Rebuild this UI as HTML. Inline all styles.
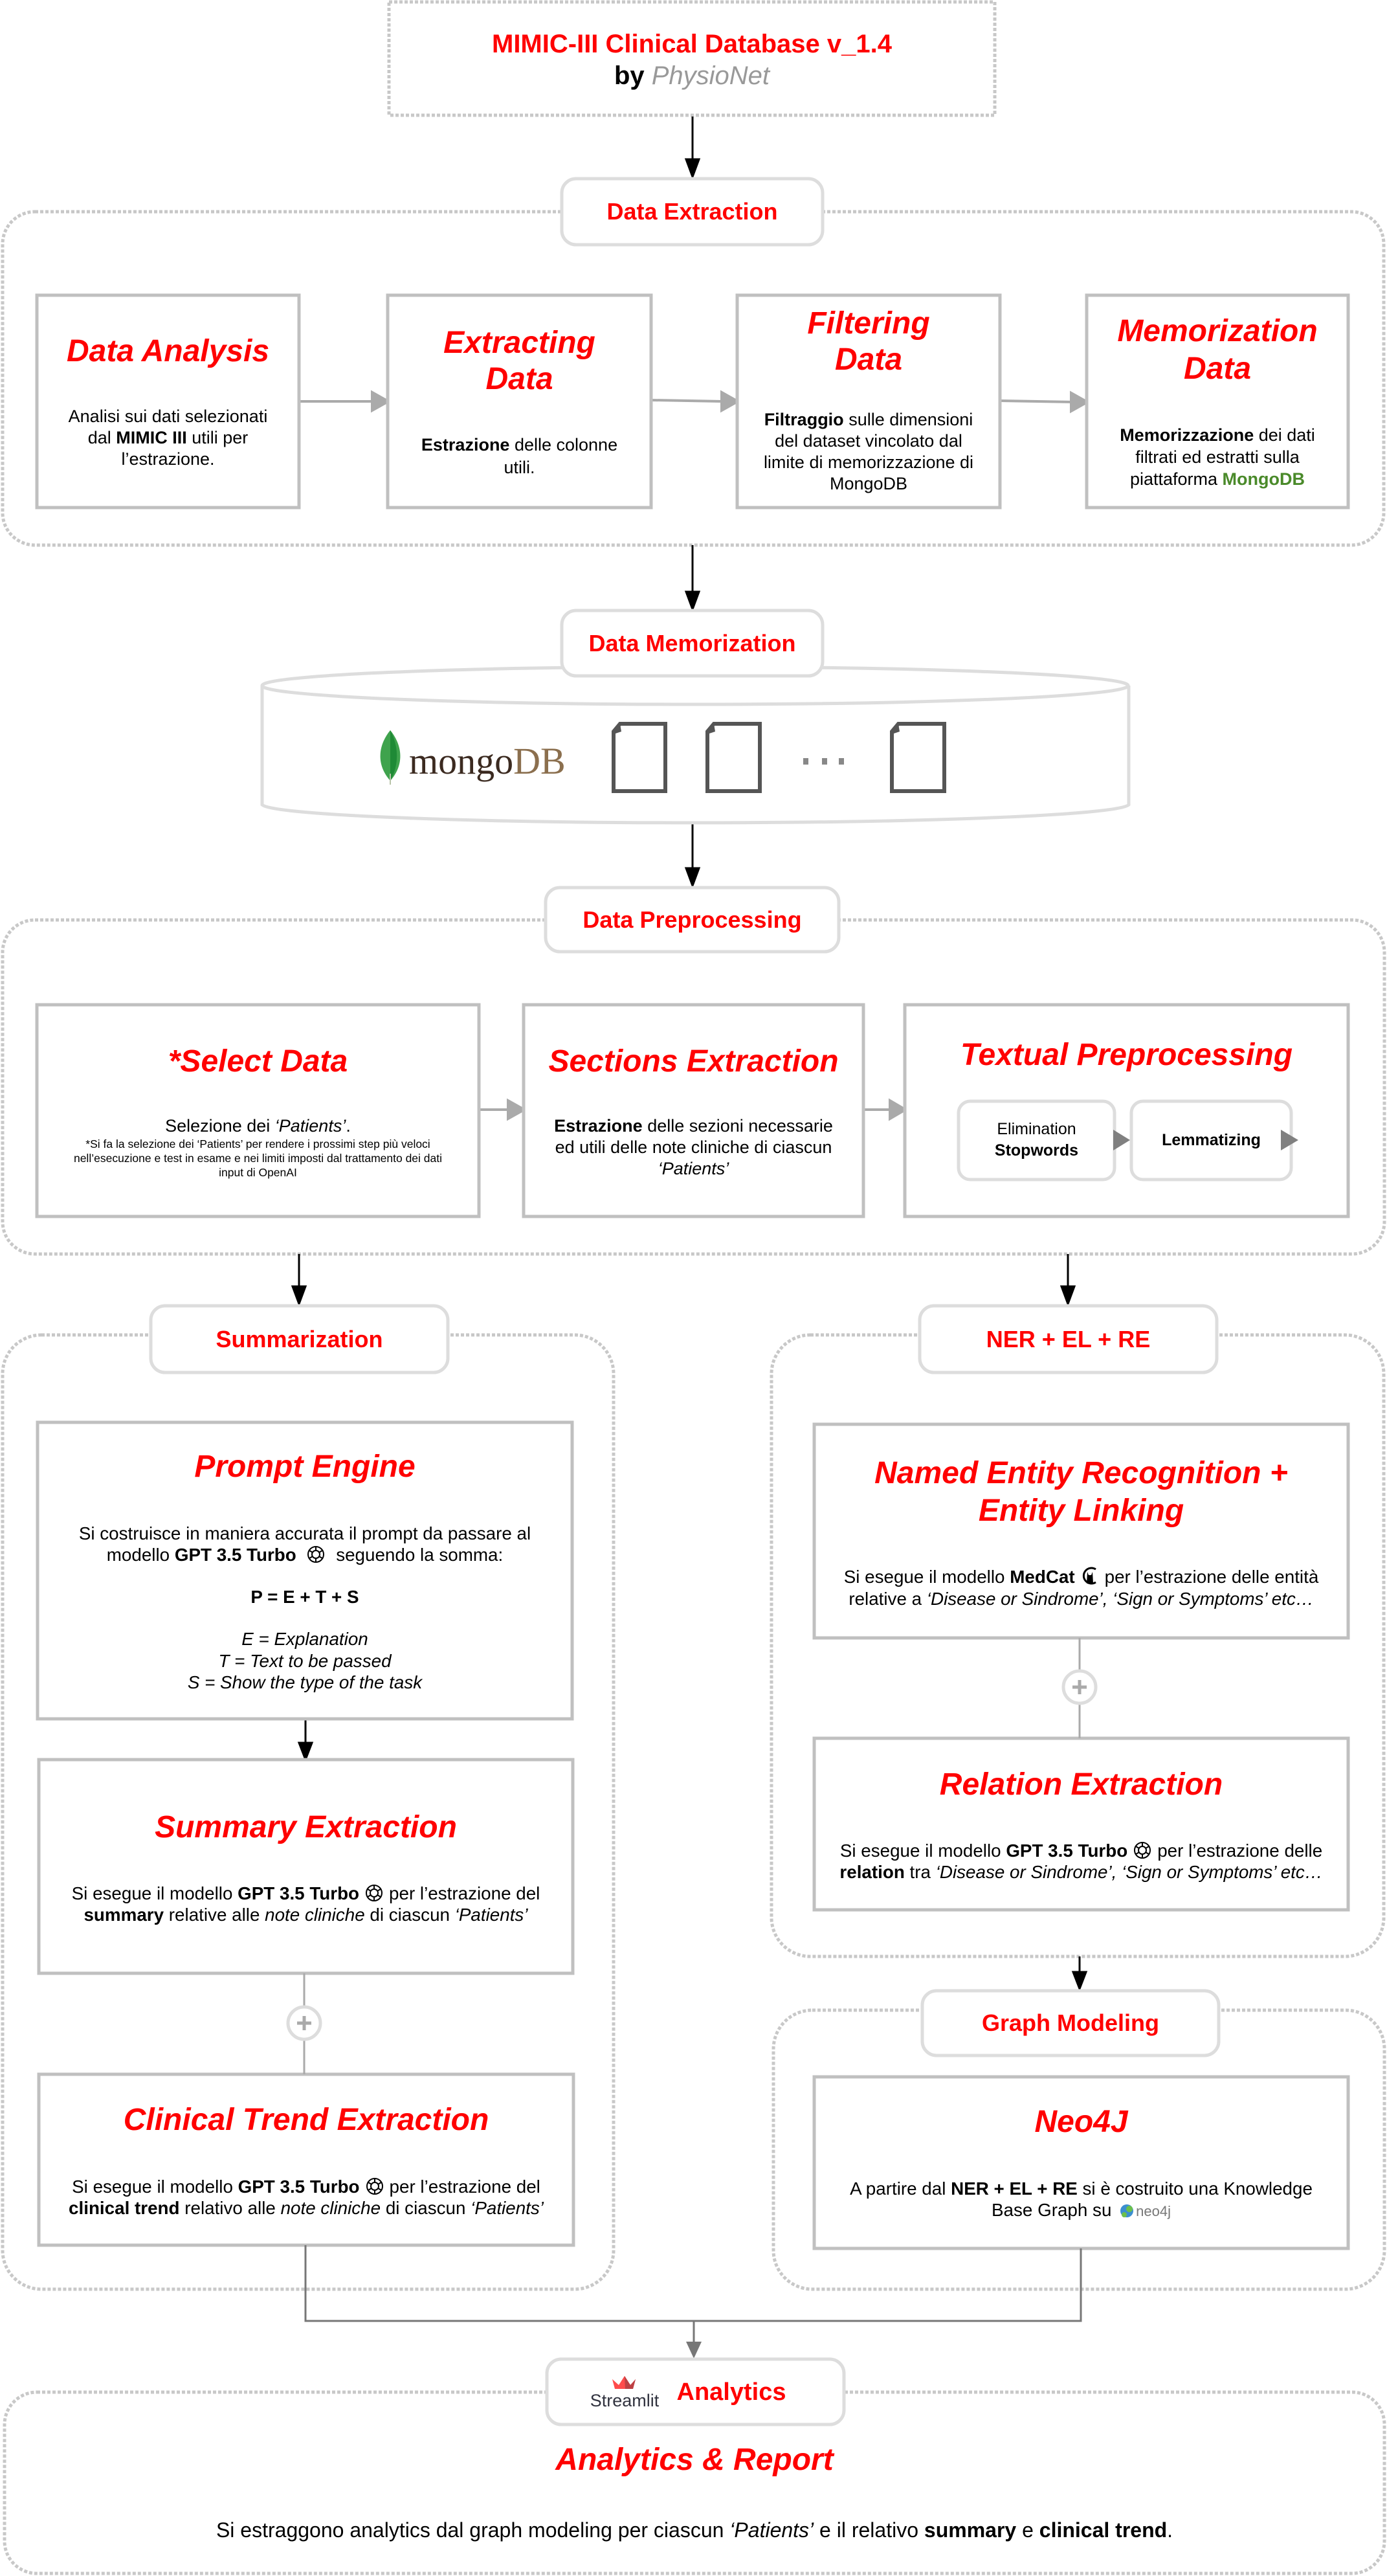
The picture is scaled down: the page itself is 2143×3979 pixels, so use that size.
<!DOCTYPE html>
<html><head><meta charset="utf-8">
<style>
*{margin:0;padding:0;box-sizing:border-box}
body{width:2143px;height:3979px;position:relative;background:#fff;font-family:"Liberation Sans",Arial,sans-serif;color:#000;overflow:hidden}
svg.bg{position:absolute;left:0;top:0}
.t{position:absolute;text-align:center;white-space:nowrap}
.h{color:#f00;font-weight:bold;font-style:italic;font-size:48px;line-height:58px}
.b{font-size:27px;line-height:33px}
.b2{font-size:27.8px}
.l{color:#f00;font-weight:bold;font-size:36px;display:flex;align-items:center;justify-content:center}
.ic{display:inline-block;vertical-align:-5px;margin:0 8px}
</style></head><body>
<svg class="bg" width="2143" height="3979" viewBox="0 0 2143 3979">
<g fill="none" stroke="#c8c8c8" stroke-width="5" stroke-dasharray="5 3">
<rect x="601" y="3" width="936" height="175"/>
<rect x="4" y="327" width="2134" height="515" rx="50"/>
<rect x="4" y="1421" width="2135" height="516" rx="50"/>
<rect x="4" y="2062" width="944" height="1474" rx="60"/>
<rect x="1192" y="2062" width="946" height="960" rx="60"/>
<rect x="1195" y="3105" width="944" height="431" rx="60"/>
<rect x="7" y="3695" width="2132" height="280" rx="50"/>
</g>
<g stroke="#000" stroke-width="3" fill="#000">
<line x1="1070" y1="180" x2="1070" y2="250"/><path d="M1060,246 L1080,246 L1070,273 z"/>
<line x1="1070" y1="842" x2="1070" y2="918"/><path d="M1060,914 L1080,914 L1070,941 z"/>
<line x1="1070" y1="1272" x2="1070" y2="1345"/><path d="M1060,1341 L1080,1341 L1070,1368 z"/>
<line x1="462" y1="1937" x2="462" y2="1990"/><path d="M452,1987 L472,1987 L462,2014 z"/>
<line x1="1650" y1="1937" x2="1650" y2="1990"/><path d="M1640,1987 L1660,1987 L1650,2014 z"/>
<line x1="472" y1="2655" x2="472" y2="2695"/><path d="M462,2692 L482,2692 L472,2718 z"/>
<line x1="1668" y1="3022" x2="1668" y2="3048"/><path d="M1658,3046 L1678,3046 L1668,3072 z"/>
</g>
<g stroke="#aaa" stroke-width="4" fill="#aaa">
<line x1="462" y1="620" x2="576" y2="620"/><path d="M575,606 L600,620 L575,634 z"/>
<line x1="1006" y1="618" x2="1116" y2="620"/><path d="M1115,606 L1140,620 L1115,634 z"/>
<line x1="1545" y1="619" x2="1656" y2="621"/><path d="M1655,607 L1680,621 L1655,635 z"/>
<line x1="740" y1="1714" x2="787" y2="1714"/><path d="M785,1700 L810,1714 L785,1728 z"/>
<line x1="1334" y1="1714" x2="1376" y2="1714"/><path d="M1375,1700 L1399,1714 L1375,1728 z"/>
</g>
<g fill="#fff" stroke="#ddd" stroke-width="5">
<path d="M405,1059 L405,1243 A670,29 0 0 0 1744,1243 L1744,1059"/>
<ellipse cx="1074" cy="1059" rx="669" ry="29"/>
</g>
<path d="M603,1128 C585,1150 580,1180 603,1206 C626,1180 621,1150 603,1128 z" fill="#3fa34d"/>
<path d="M603,1128 C615,1150 618,1180 603,1206 z" fill="#1f8a36"/>
<line x1="603" y1="1195" x2="603" y2="1212" stroke="#b8c4a8" stroke-width="2"/>
<text x="632" y="1195" font-family="Liberation Serif,serif" font-size="58" fill="#3b2a20">mongo<tspan fill="#8b6f4e">DB</tspan></text>
<g fill="#fff" stroke="#555" stroke-width="6">
<path d="M958,1118 L1028,1118 L1028,1222 L948,1222 L948,1130 z"/>
<path d="M1103,1118 L1174,1118 L1174,1222 L1093,1222 L1093,1130 z"/>
<path d="M1388,1118 L1459,1118 L1459,1222 L1378,1222 L1378,1130 z"/>
</g>
<g fill="#555"><path d="M958,1118 L948,1134 L960,1130 z"/><path d="M1103,1118 L1093,1134 L1105,1130 z"/><path d="M1388,1118 L1378,1134 L1390,1130 z"/></g>
<g fill="#888"><rect x="1241" y="1171" width="8" height="10"/><rect x="1270" y="1171" width="8" height="10"/><rect x="1296" y="1171" width="8" height="10"/></g>
<g fill="#fff" stroke="#c0c0c0" stroke-width="5">
<rect x="57" y="456" width="405" height="328"/>
<rect x="599" y="456" width="407" height="328"/>
<rect x="1139" y="456" width="406" height="328"/>
<rect x="1679" y="456" width="404" height="328"/>
<rect x="57" y="1552" width="683" height="327"/>
<rect x="809" y="1552" width="525" height="327"/>
<rect x="1398" y="1552" width="685" height="327"/>
<rect x="58" y="2197" width="826" height="458"/>
<rect x="60" y="2718" width="825" height="330"/>
<rect x="60" y="3204" width="826" height="264"/>
<rect x="1258" y="2200" width="825" height="330"/>
<rect x="1258" y="2685" width="825" height="265"/>
<rect x="1258" y="3208" width="825" height="265"/>
</g>
<g fill="#fff" stroke="#ddd" stroke-width="5">
<rect x="1481" y="1701" width="241" height="121" rx="18"/>
<rect x="1748" y="1701" width="247" height="121" rx="18"/>
</g>
<g fill="#808080"><path d="M1720,1745 L1746,1761 L1720,1777 z"/><path d="M1979,1745 L2006,1761 L1979,1777 z"/></g>
<g stroke="#aaa" stroke-width="3"><line x1="470" y1="3048" x2="470" y2="3204"/><line x1="1668" y1="2530" x2="1668" y2="2685"/></g>
<g fill="#fff" stroke="#ddd" stroke-width="5"><circle cx="470" cy="3125" r="25"/><circle cx="1668" cy="2606" r="25"/></g>
<g stroke="#aaa" stroke-width="5"><line x1="459" y1="3125" x2="481" y2="3125"/><line x1="470" y1="3114" x2="470" y2="3136"/><line x1="1657" y1="2606" x2="1679" y2="2606"/><line x1="1668" y1="2595" x2="1668" y2="2617"/></g>
<g stroke="#777" stroke-width="3" fill="none"><path d="M472,3468 L472,3585 L1670,3585 L1670,3473"/><line x1="1072" y1="3585" x2="1072" y2="3620"/></g>
<path d="M1060,3617 L1084,3617 L1072,3643 z" fill="#777"/>
<g fill="#fff" stroke="#ddd" stroke-width="5">
<rect x="868" y="276" width="403" height="102" rx="22"/>
<rect x="868" y="943" width="403" height="101" rx="22"/>
<rect x="843" y="1371" width="453" height="99" rx="22"/>
<rect x="233" y="2017" width="459" height="103" rx="22"/>
<rect x="1421" y="2017" width="459" height="103" rx="22"/>
<rect x="1425" y="3075" width="458" height="100" rx="22"/>
<rect x="845" y="3644" width="459" height="101" rx="22"/>
</g>
<path d="M946,3675 L956,3684 L965,3670 L974,3684 L982,3675 L978,3690 L950,3690 z" fill="#ff4b4b"/>
<path d="M965,3670 L974,3684 L982,3675 L978,3690 L966,3690 z" fill="#bd4043"/>
</svg>

<div class="t l" style="left:868px;top:276px;width:403px;height:102px">Data Extraction</div>
<div class="t l" style="left:868px;top:943px;width:403px;height:101px">Data Memorization</div>
<div class="t l" style="left:843px;top:1371px;width:453px;height:99px">Data Preprocessing</div>
<div class="t l" style="left:233px;top:2017px;width:459px;height:103px">Summarization</div>
<div class="t l" style="left:1421px;top:2017px;width:459px;height:103px">NER + EL + RE</div>
<div class="t l" style="left:1425px;top:3075px;width:458px;height:100px">Graph Modeling</div>
<div class="t" style="left:880px;top:3692px;width:170px;font-size:27px;line-height:32px;color:#31333f">Streamlit</div>
<div class="t" style="left:1045px;top:3673px;width:170px;font-size:38px;line-height:44px;color:#f00;font-weight:bold">Analytics</div>

<div class="t" style="left:601px;top:44px;width:936px;font-size:40px;line-height:48px;font-weight:bold;color:#f00">MIMIC-III Clinical Database v_1.4</div>
<div class="t" style="left:601px;top:93px;width:936px;font-size:40px;line-height:48px;font-weight:bold">by <span style="font-weight:normal;font-style:italic;color:#999">PhysioNet</span></div>

<div class="t h" style="left:57px;top:514px;width:405px">Data Analysis</div>
<div class="t b" style="left:57px;top:627px;width:405px">Analisi sui dati selezionati<br>dal <b>MIMIC III</b> utili per<br>l’estrazione.</div>
<div class="t h" style="left:599px;top:502px;width:407px;line-height:56px">Extracting<br>Data</div>
<div class="t b" style="left:599px;top:670px;width:407px;line-height:35px"><b>Estrazione</b> delle colonne<br>utili.</div>
<div class="t h" style="left:1139px;top:472px;width:406px;line-height:56px">Filtering<br>Data</div>
<div class="t b" style="left:1139px;top:632px;width:406px"><b>Filtraggio</b> sulle dimensioni<br>del dataset vincolato dal<br>limite di memorizzazione di<br>MongoDB</div>
<div class="t h" style="left:1679px;top:483px;width:404px">Memorization<br>Data</div>
<div class="t b" style="left:1679px;top:655px;width:404px;line-height:34px"><b>Memorizzazione</b> dei dati<br>filtrati ed estratti sulla<br>piattaforma <b style="color:#4a8a2a">MongoDB</b></div>

<div class="t h" style="left:57px;top:1611px;width:683px">*Select Data</div>
<div class="t b" style="left:57px;top:1723px;width:683px">Selezione dei <i>‘Patients’</i>.</div>
<div class="t" style="left:57px;top:1756px;width:683px;font-size:17.5px;line-height:22px">*Si fa la selezione dei ‘Patients’ per rendere i prossimi step più veloci<br>nell’esecuzione e test in esame e nei limiti imposti dal trattamento dei dati<br>input di OpenAI</div>
<div class="t h" style="left:809px;top:1611px;width:525px">Sections Extraction</div>
<div class="t b" style="left:809px;top:1723px;width:525px"><b>Estrazione</b> delle sezioni necessarie<br>ed utili delle note cliniche di ciascun<br><i>‘Patients’</i></div>
<div class="t h" style="left:1398px;top:1601px;width:685px">Textual Preprocessing</div>
<div class="t" style="left:1481px;top:1728px;width:241px;font-size:25px;line-height:33px">Elimination<br><b>Stopwords</b></div>
<div class="t" style="left:1748px;top:1745px;width:247px;font-size:25px;line-height:33px;font-weight:bold">Lemmatizing</div>

<div class="t h" style="left:58px;top:2237px;width:826px">Prompt Engine</div>
<div class="t b b2" style="left:58px;top:2352px;width:826px">Si costruisce in maniera accurata il prompt da passare al<br>modello <b>GPT 3.5 Turbo</b> <svg class="ic" width="30" height="30" viewBox="0 0 30 30"><g fill="none" stroke="#000" stroke-width="2"><circle cx="15" cy="15" r="12"/><circle cx="15" cy="15" r="6"/><path d="M15,3 L15,9 M25,9 L20,12 M25,21 L20,18 M15,27 L15,21 M5,21 L10,18 M5,9 L10,12"/></g></svg> seguendo la somma:</div>
<div class="t b b2" style="left:58px;top:2450px;width:826px;font-weight:bold">P = E + T + S</div>
<div class="t b b2" style="left:58px;top:2515px;width:826px;font-style:italic;line-height:33.5px">E = Explanation<br>T = Text to be passed<br>S = Show the type of the task</div>
<div class="t h" style="left:60px;top:2794px;width:825px">Summary Extraction</div>
<div class="t b b2" style="left:60px;top:2908px;width:825px">Si esegue il modello <b>GPT 3.5 Turbo</b><svg class="ic" width="30" height="30" viewBox="0 0 30 30"><g fill="none" stroke="#000" stroke-width="2"><circle cx="15" cy="15" r="12"/><circle cx="15" cy="15" r="6"/><path d="M15,3 L15,9 M25,9 L20,12 M25,21 L20,18 M15,27 L15,21 M5,21 L10,18 M5,9 L10,12"/></g></svg>per l’estrazione del<br><b>summary</b> relative alle <i>note cliniche</i> di ciascun <i>‘Patients’</i></div>
<div class="t h" style="left:60px;top:3246px;width:826px">Clinical Trend Extraction</div>
<div class="t b b2" style="left:60px;top:3361px;width:826px">Si esegue il modello <b>GPT 3.5 Turbo</b><svg class="ic" width="30" height="30" viewBox="0 0 30 30"><g fill="none" stroke="#000" stroke-width="2"><circle cx="15" cy="15" r="12"/><circle cx="15" cy="15" r="6"/><path d="M15,3 L15,9 M25,9 L20,12 M25,21 L20,18 M15,27 L15,21 M5,21 L10,18 M5,9 L10,12"/></g></svg>per l’estrazione del<br><b>clinical trend</b> relativo alle <i>note cliniche</i> di ciascun <i>‘Patients’</i></div>

<div class="t h" style="left:1258px;top:2247px;width:825px">Named Entity Recognition +<br>Entity Linking</div>
<div class="t b b2" style="left:1258px;top:2418px;width:825px;line-height:34px">Si esegue il modello <b>MedCat</b><svg class="ic" width="30" height="32" viewBox="0 0 30 32"><path d="M24,6 A12,12 0 1 0 24,26" fill="none" stroke="#000" stroke-width="3"/><path d="M11,10 L13,15 L17,15 L19,10 L20,28 L10,28 z" fill="#000"/></svg>per l’estrazione delle entità<br>relative a <i>‘Disease or Sindrome’, ‘Sign or Symptoms’ etc…</i></div>
<div class="t h" style="left:1258px;top:2728px;width:825px">Relation Extraction</div>
<div class="t b b2" style="left:1258px;top:2842px;width:825px">Si esegue il modello <b>GPT 3.5 Turbo</b><svg class="ic" width="30" height="30" viewBox="0 0 30 30"><g fill="none" stroke="#000" stroke-width="2"><circle cx="15" cy="15" r="12"/><circle cx="15" cy="15" r="6"/><path d="M15,3 L15,9 M25,9 L20,12 M25,21 L20,18 M15,27 L15,21 M5,21 L10,18 M5,9 L10,12"/></g></svg>per l’estrazione delle<br><b>relation</b> tra <i>‘Disease or Sindrome’, ‘Sign or Symptoms’ etc…</i></div>

<div class="t h" style="left:1258px;top:3249px;width:825px">Neo4J</div>
<div class="t b b2" style="left:1258px;top:3364px;width:825px">A partire dal <b>NER + EL + RE</b> si è costruito una Knowledge<br>Base Graph su <svg class="ic" style="margin:0 2px 0 4px" width="24" height="26" viewBox="0 0 24 26"><circle cx="12" cy="13" r="10" fill="#3b8fd0"/><circle cx="16" cy="10" r="5" fill="#6cc04a"/><circle cx="8" cy="19" r="4" fill="#6cc04a"/></svg><span style="color:#777;font-size:22px">neo4j</span></div>

<div class="t h" style="left:7px;top:3771px;width:2132px">Analytics &amp; Report</div>
<div class="t" style="left:7px;top:3889px;width:2132px;font-size:32px;line-height:38px">Si estraggono analytics dal graph modeling per ciascun <i>‘Patients’</i> e il relativo <b>summary</b> e <b>clinical trend</b>.</div>
</body></html>
